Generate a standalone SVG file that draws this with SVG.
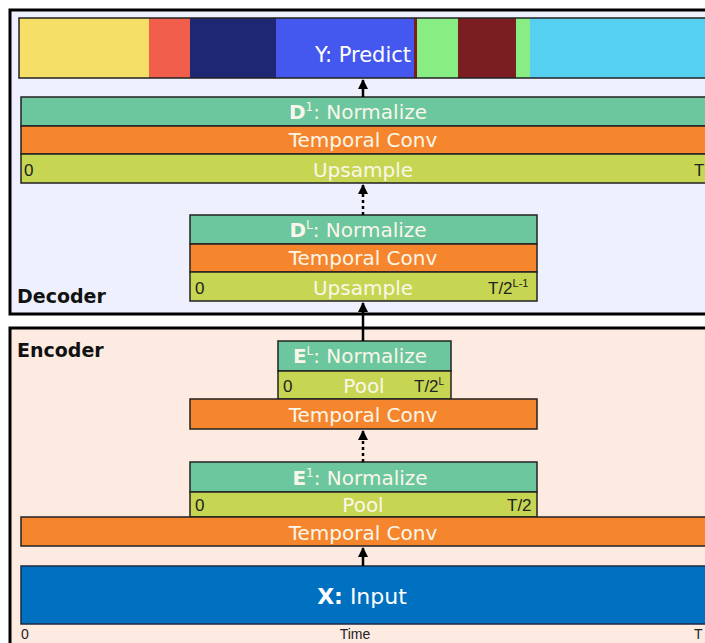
<svg xmlns="http://www.w3.org/2000/svg" width="705" height="643" viewBox="0 0 705 643">
<defs>
<style>
.box{stroke:#222;stroke-width:1.5}
.norm{fill:#6cc69e}
.conv{fill:#f5862d}
.ups{fill:#c6d652}
.lbl{font-family:"DejaVu Sans",sans-serif;font-size:20px;fill:#fbf6ea;text-anchor:middle}
.sm{font-family:"Liberation Sans",sans-serif;font-size:17px;fill:#222}
.ax{font-family:"Liberation Sans",sans-serif;font-size:14px;fill:#222}
.ttl{font-family:"DejaVu Sans",sans-serif;font-size:19px;font-weight:bold;fill:#111}
.ar{stroke:#000;stroke-width:2.5;fill:none}
.dot{stroke:#000;stroke-width:2.5;fill:none;stroke-dasharray:3 3}
</style>
<marker id="ah" viewBox="0 0 10 10" refX="9" refY="5" markerWidth="4" markerHeight="4" orient="auto" markerUnits="strokeWidth">
<path d="M0,0 L10,5 L0,10 z" fill="#000"/>
</marker>
</defs>
<rect width="705" height="643" fill="#fff"/>

<g id="decoder">
<rect x="10" y="10" width="710" height="304" fill="#eef0fd" stroke="#000" stroke-width="3"/>
<text class="ttl" x="17" y="303">Decoder</text>
</g>
<g id="encoder">
<rect x="10" y="328" width="710" height="330" fill="#fdebe1" stroke="#000" stroke-width="3"/>
<text class="ttl" x="17" y="357">Encoder</text>
</g>

<g id="predict">
<rect x="19" y="18" width="130" height="60" fill="#f5df66"/>
<rect x="149" y="18" width="41" height="60" fill="#f25e4c"/>
<rect x="190" y="18" width="86" height="60" fill="#1e2773"/>
<rect x="276" y="18" width="138" height="60" fill="#4457ee"/>
<rect x="414" y="18" width="3" height="60" fill="#7a1e22"/>
<rect x="417" y="18" width="41" height="60" fill="#88ed83"/>
<rect x="458" y="18" width="58" height="60" fill="#7a1e22"/>
<rect x="516" y="18" width="14" height="60" fill="#88ed83"/>
<rect x="530" y="18" width="190" height="60" fill="#55d0f1"/>
<rect x="19" y="18" width="701" height="60" fill="none" stroke="#222" stroke-width="1.5"/>
<text class="lbl" x="363" y="62" style="fill:#fff;font-size:21px">Y: Predict</text>
</g>

<g id="d1">
<rect class="box norm" x="21" y="97" width="700" height="29"/>
<rect class="box conv" x="21" y="126" width="700" height="28"/>
<rect class="box ups" x="21" y="154" width="700" height="29"/>
<text class="lbl" x="358" y="119"><tspan font-weight="bold">D</tspan><tspan font-size="12" dy="-8">1</tspan><tspan dy="8">: Normalize</tspan></text>
<text class="lbl" x="363" y="147">Temporal Conv</text>
<text class="lbl" x="363" y="177">Upsample</text>
<text class="sm" x="24" y="176">0</text>
<text class="sm" x="694" y="176">T</text>
</g>

<g id="dL">
<rect class="box norm" x="190" y="215" width="347" height="29"/>
<rect class="box conv" x="190" y="244" width="347" height="28"/>
<rect class="box ups" x="190" y="272" width="347" height="29"/>
<text class="lbl" x="358" y="237"><tspan font-weight="bold">D</tspan><tspan font-size="12" dy="-8">L</tspan><tspan dy="8">: Normalize</tspan></text>
<text class="lbl" x="363" y="265">Temporal Conv</text>
<text class="lbl" x="363" y="295">Upsample</text>
<text class="sm" x="195" y="294">0</text>
<text class="sm" x="488" y="294">T/2<tspan font-size="11" dy="-7">L-1</tspan></text>
</g>

<g id="eL">
<rect class="box norm" x="278" y="341" width="173" height="30"/>
<rect class="box ups" x="278" y="371" width="173" height="28"/>
<text class="lbl" x="360" y="363"><tspan font-weight="bold">E</tspan><tspan font-size="12" dy="-8">L</tspan><tspan dy="8">: Normalize</tspan></text>
<text class="lbl" x="364" y="393">Pool</text>
<text class="sm" x="283" y="392">0</text>
<text class="sm" x="414" y="392">T/2<tspan font-size="10" dy="-7">L</tspan></text>
</g>

<g id="convL">
<rect class="box conv" x="190" y="399" width="347" height="30"/>
<text class="lbl" x="363" y="422">Temporal Conv</text>
</g>

<g id="e1">
<rect class="box norm" x="190" y="462" width="347" height="30"/>
<rect class="box ups" x="190" y="492" width="347" height="25"/>
<text class="lbl" x="360" y="485"><tspan font-weight="bold">E</tspan><tspan font-size="12" dy="-8">1</tspan><tspan dy="8">: Normalize</tspan></text>
<text class="lbl" x="363" y="512">Pool</text>
<text class="sm" x="195" y="511">0</text>
<text class="sm" x="507" y="511">T/2</text>
</g>

<g id="conv1">
<rect class="box conv" x="21" y="517" width="700" height="29"/>
<text class="lbl" x="363" y="540">Temporal Conv</text>
</g>

<g id="input">
<rect x="21" y="566" width="700" height="58" fill="#0070c0" stroke="#1a2a40" stroke-width="1.5"/>
<text class="lbl" x="362" y="604" style="font-size:22px;fill:#fff"><tspan font-weight="bold">X:</tspan> Input</text>
<text class="ax" x="21" y="639">0</text>
<text class="ax" x="355" y="639" text-anchor="middle">Time</text>
<text class="ax" x="694" y="639">T</text>
</g>

<g id="connectors">
<line class="ar" x1="363" y1="97" x2="363" y2="80" marker-end="url(#ah)"/>
<line class="dot" x1="363" y1="215" x2="363" y2="192"/>
<line class="ar" x1="363" y1="192" x2="363" y2="185" marker-end="url(#ah)"/>
<line class="ar" x1="363" y1="341" x2="363" y2="303" marker-end="url(#ah)"/>
<line class="dot" x1="363" y1="462" x2="363" y2="438"/>
<line class="ar" x1="363" y1="438" x2="363" y2="431" marker-end="url(#ah)"/>
<line class="ar" x1="363" y1="566" x2="363" y2="548" marker-end="url(#ah)"/>
</g>
</svg>
